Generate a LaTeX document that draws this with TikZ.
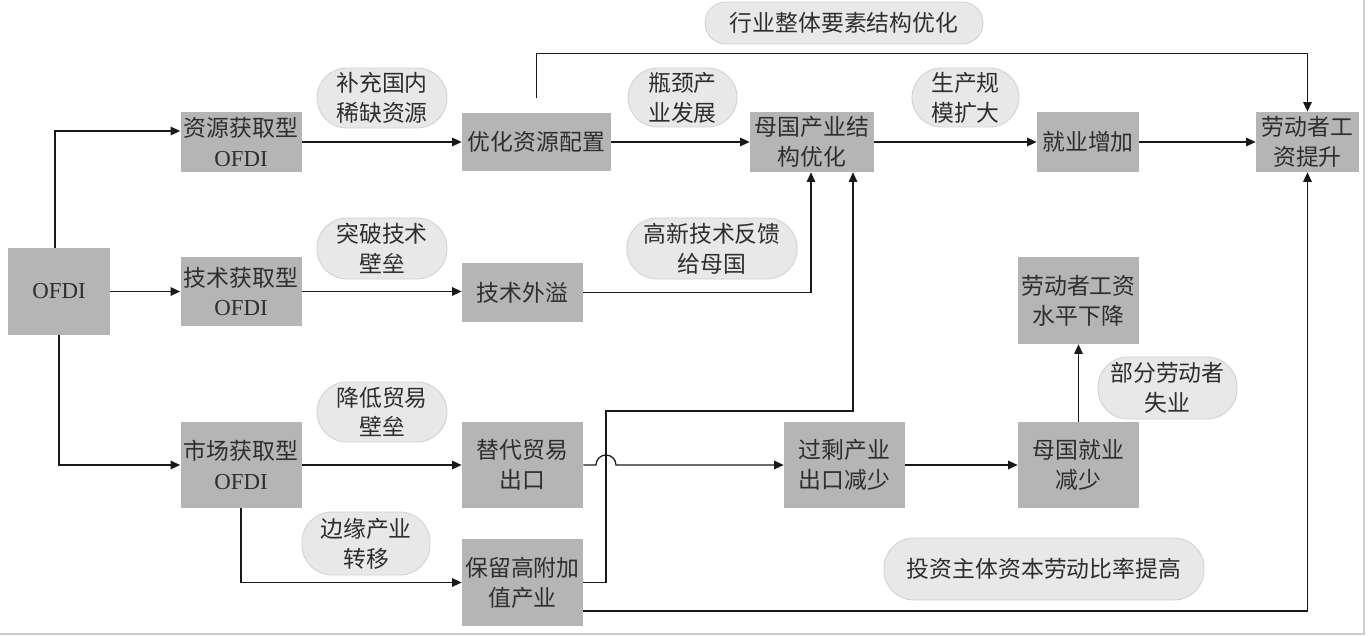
\documentclass[tikz,border=0pt]{standalone}
\usepackage{fontspec}
\setmainfont{Liberation Serif}
\newfontfamily\cjk{Noto Sans CJK SC}
\usepackage{tikz}
\usetikzlibrary{arrows.meta,positioning,calc}
\definecolor{boxgray}{HTML}{B5B5B5}
\definecolor{pillgray}{HTML}{E8E8E8}
\definecolor{pilledge}{HTML}{D2D2D2}
\definecolor{ink}{HTML}{2E2E2E}
\definecolor{frame}{HTML}{CDCDCD}
\tikzset{
  box/.style={fill=boxgray,inner sep=0pt,align=center,text=ink,font=\cjk\fontsize{13}{17}\selectfont,minimum width=24.2mm,minimum height=17.2mm},
  pill/.style={fill=pillgray,draw=pilledge,line width=0.5pt,rounded corners=6mm,inner sep=0pt,align=center,text=ink,font=\cjk\fontsize{13}{17}\selectfont,minimum width=26mm,minimum height=12mm},
  arr/.style={-{Triangle[length=1.9mm,width=1.7mm]},line width=0.7pt,color=black!90},
  ln/.style={line width=0.7pt,color=black!90},
}
\begin{document}
\begin{tikzpicture}[x=0.2mm,y=-0.2mm]
\fill[white] (0,0) rectangle (1368,636);
\useasboundingbox (0,0) rectangle (1368,636);
\draw[frame,line width=0.6pt] (0,634) -- (1364,634) -- (1364,0);
\node[box,minimum width=20.4mm,minimum height=17.4mm] (ofdi) at (59,291.5) {\rmfamily OFDI};
\node[box,minimum height=12mm] (zyhq) at (241,142) {资源获取型\\\rmfamily OFDI};
\node[box,minimum height=13.8mm] (jshq) at (241,291.5) {技术获取型\\\rmfamily OFDI};
\node[box] (schq) at (241,465) {市场获取型\\\rmfamily OFDI};
\node[box,minimum width=29.8mm,minimum height=11.6mm] (yhpz) at (536.5,142) {优化资源配置};
\node[box,minimum width=24.8mm,minimum height=12mm] (mgcy) at (812,142) {母国产业结\\构优化};
\node[box,minimum width=20.4mm,minimum height=11.8mm] (jyzj) at (1088,142) {就业增加};
\node[box,minimum width=20.6mm,minimum height=12mm] (ldts) at (1307.5,142) {劳动者工\\资提升};
\node[box,minimum height=11.8mm] (jswy) at (522.5,292.5) {技术外溢};
\node[box] (tdmy) at (522.5,465) {替代贸易\\出口};
\node[box,minimum height=17.4mm] (blgf) at (522.5,582.5) {保留高附加\\值产业};
\node[box] (gscy) at (844.5,465) {过剩产业\\出口减少};
\node[box] (mgjy) at (1078.5,465) {母国就业\\减少};
\node[box,minimum height=17.4mm] (ldxj) at (1078.5,300.5) {劳动者工资\\水平下降};
\node[pill] (bcgn) at (382,98) {补充国内\\稀缺资源};
\node[pill,minimum height=12.2mm] (tpjs) at (382,248.5) {突破技术\\壁垒};
\node[pill,minimum width=21.8mm,minimum height=11.8mm,rounded corners=5.9mm] (pjcy) at (682.5,97.5) {瓶颈产\\业发展};
\node[pill,minimum width=34mm,minimum height=12.2mm] (gxjs) at (712,248.5) {高新技术反馈\\给母国};
\node[pill,minimum width=55.6mm,minimum height=8.4mm,rounded corners=4.2mm] (hyzt) at (844,23) {行业整体要素结构优化};
\node[pill,minimum width=21.4mm,minimum height=11.8mm,rounded corners=5.9mm] (scgm) at (965.5,97.5) {生产规\\模扩大};
\node[pill] (jdmy) at (382,412) {降低贸易\\壁垒};
\node[pill,minimum width=25.6mm,minimum height=12.6mm] (byzy) at (366,543.5) {边缘产业\\转移};
\node[pill,minimum width=27.8mm,minimum height=12.4mm] (bfsy) at (1167.5,388) {部分劳动者\\失业};
\node[pill,minimum width=64mm,minimum height=12.4mm] (tzzt) at (1044,569) {投资主体资本劳动比率提高};
\draw[arr] ([xshift=-0.8mm]ofdi.north) |- ([yshift=2.2mm]zyhq.west);
\draw[arr] (ofdi.east) -- (jshq.west);
\draw[arr] (ofdi.south) |- (schq.west);
\draw[arr] (zyhq.east) -- (yhpz.west);
\draw[arr] (jshq.east) -- (jswy.west |- jshq.east);
\draw[arr] (schq.east) -- (tdmy.west);
\draw[arr] (schq.south) |- (blgf.west);
\draw[arr] (yhpz.east) -- (mgcy.west);
\draw[arr] (mgcy.east) -- (jyzj.west);
\draw[arr] (jyzj.east) -- (ldts.west);
\draw[arr,shorten <=3mm] (yhpz.north) -- ++(0,-59) -| (ldts.north);
\draw[arr] (jswy.east) -| ([xshift=-0.2mm]mgcy.south);
\draw[arr] (blgf.east) -| (606,411) -| ([xshift=8.2mm]mgcy.south);
\draw[arr] (tdmy.east) -- (596,465) arc[start angle=180,end angle=0,radius=2mm] -- (gscy.west);
\draw[arr] (gscy.east) -- (mgjy.west);
\draw[arr] (mgjy.north) -- (ldxj.south);
\draw[arr] ([yshift=-5.7mm]blgf.east) -| (ldts.south);
\end{tikzpicture}
\end{document}
